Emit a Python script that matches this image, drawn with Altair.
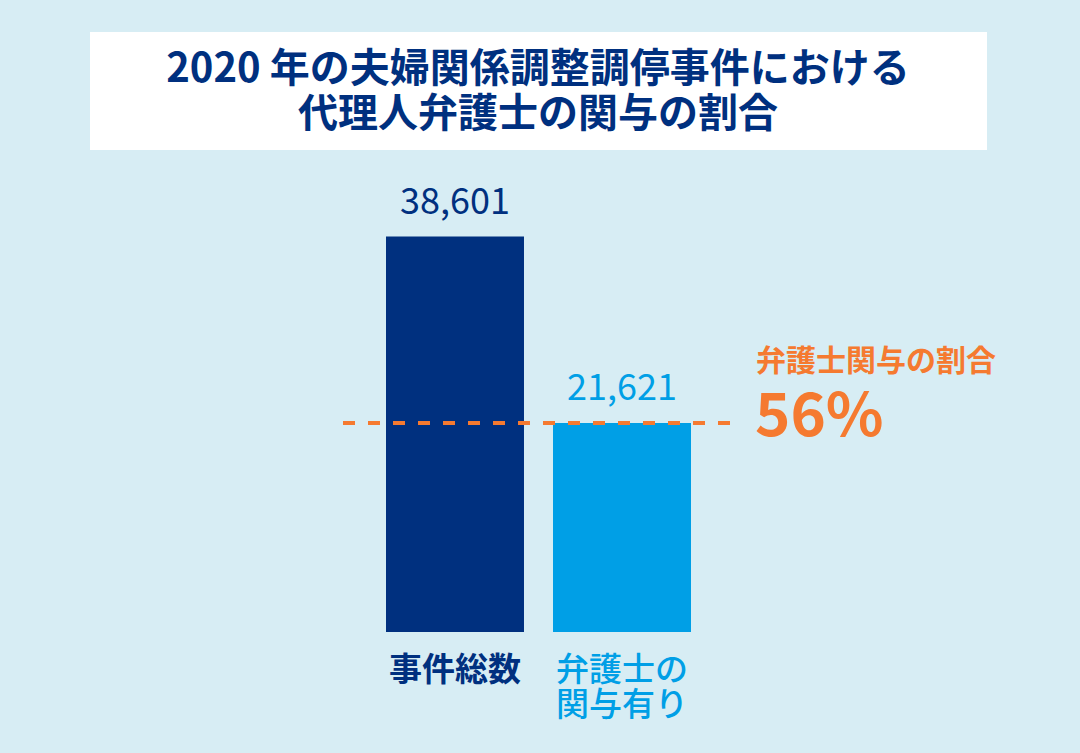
import altair as alt
import pandas as pd

categories = ["事件総数", "弁護士の\n関与有り"]
values = [38601, 21621]
value_labels = ["38,601", "21,621"]
bar_colors = ["#00307F", "#009FE6"]
title_lines = ["2020 年の夫婦関係調整調停事件における", "代理人弁護士の関与の割合"]
share_caption = "弁護士関与の割合"
share_value = "56%"

NAVY = "#00307F"
BLUE = "#009FE6"
ORANGE = "#F57A30"
BG = "#D7EDF4"
FONT = "Noto Sans CJK JP"

df = pd.DataFrame({"cat": categories, "value": values, "label": value_labels})

xscale = alt.Scale(domain=categories, range=[386, 691], paddingInner=0.1737, paddingOuter=0)
yscale = alt.Scale(domain=[2592, 38601], range=[632, 236.5], zero=False, clamp=True)
cscale = alt.Scale(domain=categories, range=bar_colors)

base = alt.Chart(df)
X = alt.X("cat:N", scale=xscale, axis=None, sort=categories)
C = alt.Color("cat:N", scale=cscale, legend=None)

bars = base.mark_bar().encode(
    x=X,
    y=alt.Y("value:Q", scale=yscale, axis=None),
    color=C,
)

vlabels = base.mark_text(font=FONT, fontSize=36, baseline="alphabetic", dy=-23).encode(
    x=X,
    y=alt.Y("value:Q", scale=yscale, axis=None),
    text="label:N",
    color=C,
)

catlabel_first = base.transform_filter(alt.datum.cat == categories[0]).mark_text(
    font=FONT, fontSize=33, fontWeight="bold", baseline="middle", lineBreak="\n", lineHeight=35
).encode(x=X, y=alt.value(671), text="cat:N", color=C)

catlabel_second = base.transform_filter(alt.datum.cat == categories[1]).mark_text(
    font=FONT, fontSize=33, fontWeight=500, baseline="middle", lineBreak="\n", lineHeight=35
).encode(x=X, y=alt.value(671), text="cat:N", color=C)

ratio_line = alt.Chart(pd.DataFrame({"v": [values[1]]})).mark_rule(
    color=ORANGE, strokeWidth=4, strokeDash=[12, 13]
).encode(
    x=alt.value(343), x2=alt.value(737),
    y=alt.Y("v:Q", scale=yscale, axis=None),
)

title_box = alt.Chart(pd.DataFrame({"a": [0]})).mark_rect(color="white").encode(
    x=alt.value(90), x2=alt.value(987), y=alt.value(32), y2=alt.value(150)
)

title_df = pd.DataFrame({"t": title_lines, "yy": [70, 115]})
title_text = alt.Chart(title_df).mark_text(
    font=FONT, fontSize=40, fontWeight="bold", color=NAVY, baseline="middle", align="center"
).encode(
    x=alt.value(538), y=alt.Y("yy:Q", scale=None), text="t:N"
)

cap = alt.Chart(pd.DataFrame({"t": [share_caption]})).mark_text(
    font=FONT, fontSize=30, fontWeight="bold", color=ORANGE, align="left", baseline="middle"
).encode(x=alt.value(756), y=alt.value(362), text="t:N")

pct = alt.Chart(pd.DataFrame({"t": [share_value]})).mark_text(
    font=FONT, fontSize=60, fontWeight="bold", color=ORANGE, align="left", baseline="middle"
).encode(x=alt.value(755), y=alt.value(418), text="t:N")

chart = alt.layer(
    title_box, title_text, bars, ratio_line, vlabels, catlabel_first, catlabel_second, cap, pct
).properties(
    width=1080, height=753, background=BG, padding=0, autosize=alt.AutoSizeParams(type="none")
).configure_view(stroke=None)

chart.save("out.html", embed_options={"renderer": "svg", "actions": False})
